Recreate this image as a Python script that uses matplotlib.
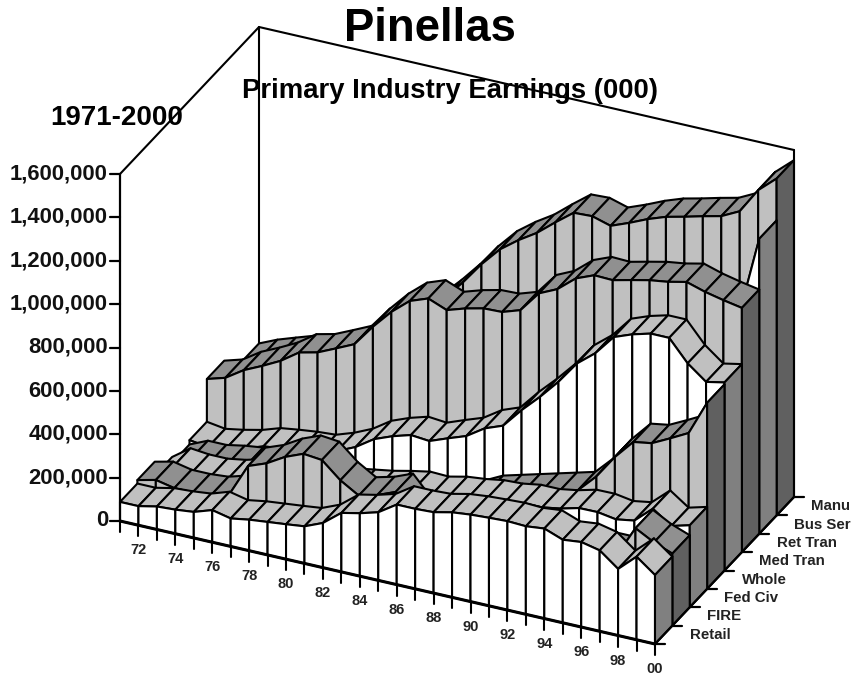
#!/usr/bin/env python3
"""Pinellas primary industry earnings 1971-2000, drawn as a 3D ribbon chart."""

import matplotlib
matplotlib.use("Agg")
import matplotlib.pyplot as plt
from matplotlib.patches import Polygon

plt.rcParams["font.family"] = ["Liberation Sans", "DejaVu Sans"]

# values in thousands of dollars, 1971..2000
retail = [88, 88, 106, 111, 120, 148, 129, 143, 152, 161, 171, 206, 272, 290, 314,
          369, 369, 373, 392, 401, 406, 410, 406, 415, 383, 392, 373, 307, 383, 318]
fire = [104, 124, 106, 106, 113, 138, 286, 318, 367, 401, 392, 318, 267, 289, 323,
        230, 230, 230, 230, 254, 254, 267, 277, 277, 277, 267, 267, 410, 364, 332]
fed_civ = [41, 101, 92, 92, 106, 129, 138, 152, 161, 175, 184, 198, 212, 231, 247,
           244, 263, 272, 286, 290, 304, 304, 318, 340, 341, 327, 341, 415, 355, 378]
whole = [14, 51, 51, 67, 78, 83, 92, 92, 83, 74, 69, 73, 88, 101, 115,
         134, 161, 203, 226, 249, 272, 295, 318, 401, 510, 599, 613, 655, 699, 858]
med_tran = [34, 21, 36, 55, 83, 95, 105, 111, 140, 178, 234, 267, 292, 284, 316,
            346, 401, 433, 524, 605, 694, 798, 865, 959, 991, 1014, 1014, 916, 850, 867]
ret_tran = [231, 256, 311, 350, 393, 451, 471, 509, 548, 648, 736, 806, 837, 803, 830,
            850, 853, 881, 978, 1017, 1086, 1120, 1117, 1137, 1156, 1168, 1187, 1161, 1142, 1126]
bus_ser = [120, 152, 175, 198, 221, 240, 258, 277, 300, 369, 461, 576, 660, 720, 640,
           660, 700, 738, 784, 830, 876, 922, 945, 968, 991, 991, 1005, 1014, 1019, 1360]
manu = [141, 178, 207, 235, 254, 267, 286, 304, 323, 392, 567, 650, 742, 845, 933,
        995, 1048, 1116, 1180, 1184, 1159, 1192, 1229, 1259, 1279, 1301, 1321, 1363, 1480, 1553]

series = [retail, fire, fed_civ, whole, med_tran, ret_tran, bus_ser, manu]
series_names = ["Retail", "FIRE", "Fed Civ", "Whole", "Med Tran", "Ret Tran", "Bus Ser", "Manu"]
year_labels = ["72", "74", "76", "78", "80", "82", "84", "86", "88", "90", "92", "94", "96", "98", "00"]
value_ticks = [0, 200, 400, 600, 800, 1000, 1200, 1400, 1600]

# pixel geometry of the oblique projection
X0, Y0 = 120, 521
XSTEP = (655 - 120) / 29, (644 - 521) / 29
DEPTH = 139 / 8, -147 / 8
VSCALE = 347 / 1600
N = len(retail)
LW = 1.5


def proj(i, k, v=0):
    return (X0 + i * XSTEP[0] + k * DEPTH[0],
            Y0 + i * XSTEP[1] + k * DEPTH[1] - v * VSCALE)


fig = plt.figure(figsize=(8.54, 6.75), dpi=100)
ax = fig.add_axes([0, 0, 1, 1])
ax.set_xlim(0, 854)
ax.set_ylim(675, 0)
ax.axis("off")


def line(a, b, lw=LW):
    ax.plot([a[0], b[0]], [a[1], b[1]], color="black", lw=lw, solid_capstyle="round")


def quad(pts, color):
    ax.add_patch(Polygon(pts, closed=True, facecolor=color, edgecolor="black",
                         linewidth=LW, joinstyle="round"))


# back wall outline
top_left = proj(0, 0, 1600)
top_back = proj(0, 8, 1600)
top_right = proj(N - 1, 8, 1600)
line(top_left, top_back)
line(top_back, top_right)
line(top_back, proj(0, 8, 141))
line(top_right, proj(N - 1, 8))

# ribbons, back to front
for k in range(len(series) - 1, -1, -1):
    vals = series[k]
    wall = "white" if k % 2 == 0 else "#c0c0c0"
    top = "#c0c0c0" if k % 2 == 0 else "#909090"
    side = "#808080" if k % 2 == 0 else "#606060"
    for i in range(N - 1):
        quad([proj(i, k, vals[i]), proj(i + 1, k, vals[i + 1]),
              proj(i + 1, k + 1, vals[i + 1]), proj(i, k + 1, vals[i])], top)
    for i in range(N - 1):
        quad([proj(i, k), proj(i + 1, k),
              proj(i + 1, k, vals[i + 1]), proj(i, k, vals[i])], wall)
    quad([proj(N - 1, k), proj(N - 1, k + 1),
          proj(N - 1, k + 1, vals[-1]), proj(N - 1, k, vals[-1])], side)

# axes
line(proj(0, 0), top_left, lw=1.6)
line(proj(0, 0), proj(N - 1, 0), lw=2.2)
line(proj(N - 1, 0), proj(N - 1, 8), lw=1.6)

for v in value_ticks:
    x, y = proj(0, 0, v)
    line((x - 10, y), (x, y), lw=1.6)
    ax.text(108, y, f"{v * 1000:,}", ha="right", va="center", fontsize=15.8,
            fontweight="bold", color="#111111")

for i in range(N):
    x, y = proj(i, 0)
    line((x, y), (x, y + 11))
for n, lab in enumerate(year_labels):
    x, y = proj(2 * n + 1, 0)
    ax.text(x, y + 25, lab, ha="center", va="center", fontsize=10.5,
            fontweight="bold", color="#222222")

for k in range(len(series) + 1):
    x, y = proj(N - 1, k)
    line((x, y), (x + 10, y), lw=1.6)
for k, name in enumerate(series_names):
    x, y = proj(N - 1, k + 0.5)
    ax.text(x + 26, y, name, ha="left", va="center", fontsize=10.8,
            fontweight="bold", color="#222222")

ax.text(430, 29, "Pinellas", ha="center", va="center", fontsize=32.8,
        fontweight="bold", color="black", zorder=10)
ax.text(450, 91, "Primary Industry Earnings (000)", ha="center", va="center",
        fontsize=19.8, fontweight="bold", color="black", zorder=10)
ax.text(117, 118, "1971-2000", ha="center", va="center", fontsize=20,
        fontweight="bold", color="black", zorder=10)

fig.savefig("out.png", dpi=100)
